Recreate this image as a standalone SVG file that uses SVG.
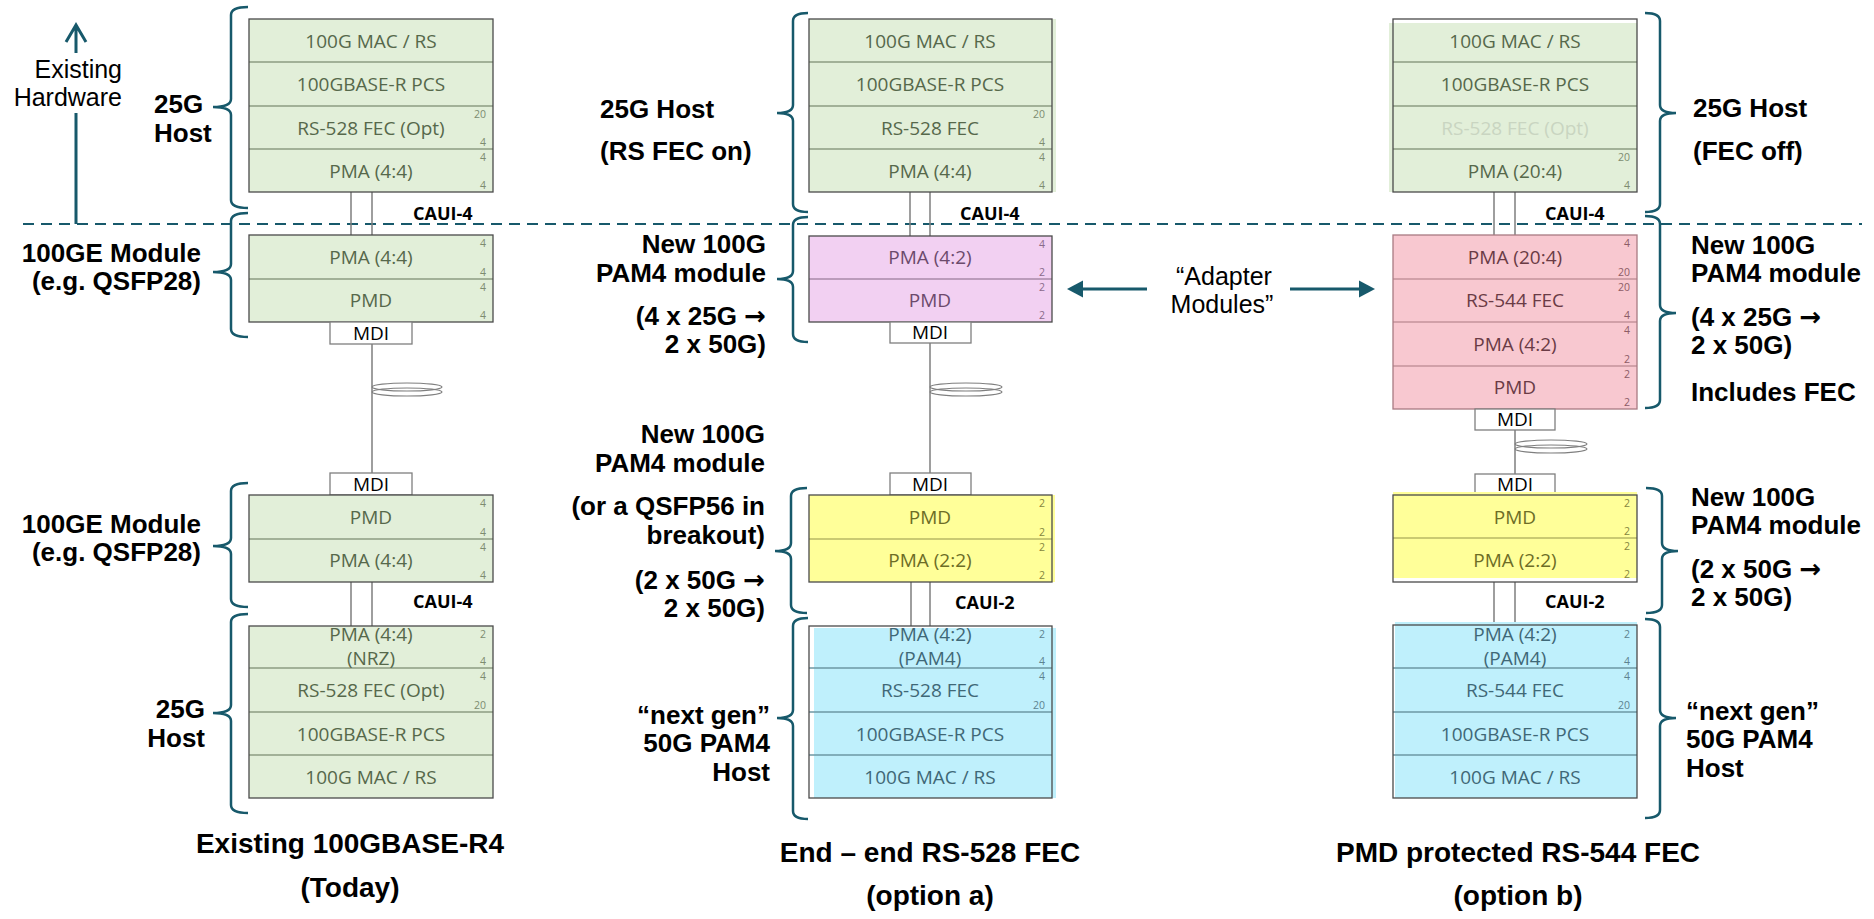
<svg xmlns="http://www.w3.org/2000/svg" width="1874" height="919" viewBox="0 0 1874 919">
<style>
.bt{font-family:"Open Sans","Liberation Sans",sans-serif;font-size:19px;text-anchor:middle}
.num{font-family:"Open Sans","Liberation Sans",sans-serif;font-size:10.5px;text-anchor:end}
.g .bt{fill:#56684b}.g .num{fill:#7d8c70}.g .fl{fill:#e2efd9}.g .dv{stroke:#8d9d82}
.p .bt{fill:#6c4a6c}.p .num{fill:#8a6a8a}.p .fl{fill:#f2d0f2}.p .dv{stroke:#a88aa8}
.r .bt{fill:#6a3b45}.r .num{fill:#8d5c66}.r .fl{fill:#f8c8d0}.r .dv{stroke:#c4939b}
.y .bt{fill:#6d6d26}.y .num{fill:#85853e}.y .fl{fill:#ffff99}.y .dv{stroke:#b9b964}
.b .bt{fill:#3f6877}.b .num{fill:#5d8390}.b .fl{fill:#bff0fc}.b .dv{stroke:#6d98a4}
.dv{stroke-width:1.5}
.bd{fill:none;stroke:#4a4a4a;stroke-width:1.3}
.faded{fill:#c9d5c1 !important}
.lbl{font-family:"Liberation Sans",Arial,sans-serif;font-weight:bold;font-size:26px;fill:#000}
.lr{text-anchor:end}
.arr{font-family:"DejaVu Sans",sans-serif;font-weight:bold}
.cap{font-family:"Liberation Sans",Arial,sans-serif;font-weight:bold;font-size:28px;fill:#000;text-anchor:middle}
.caui{font-family:"Open Sans","Liberation Sans",sans-serif;font-weight:bold;font-size:18px;fill:#000}
.mdi rect{fill:#fff;stroke:#7f7f7f;stroke-width:1.3}
.mdi text{font-family:"Open Sans","Liberation Sans",sans-serif;font-size:19px;fill:#000;text-anchor:middle}
.conn{stroke:#7f7f7f;stroke-width:1.5;fill:none}
.coil{fill:none;stroke:#7f7f7f;stroke-width:1.2}
.brace{fill:none;stroke:#17596b;stroke-width:2.5}
.teal{stroke:#17596b;fill:none}
.reg{font-family:"Liberation Sans",Arial,sans-serif;font-size:25px;fill:#000}
</style>

<!-- divider and existing-hardware arrow -->
<g id="existing-hardware">
<path class="teal" d="M23 224 H1862" stroke-width="2.2" stroke-dasharray="11 7"/>
<path class="teal" d="M76 224 V113 M76 53 V25 M66 42 L76 25 L86 42" stroke-width="3"/>
<text class="reg" x="122" y="78" text-anchor="end">Existing</text>
<text class="reg" x="122" y="106" text-anchor="end">Hardware</text>
</g>

<!-- connectors -->
<g id="connectors">
<path class="conn" d="M351 192 V235 M372 192 V235 M351 582 V626 M372 582 V626 M372 344 V473"/>
<path class="conn" d="M910 192 V236 M930 192 V236 M911 582 V626 M930 582 V626 M930 343 V473"/>
<path class="conn" d="M1494 192 V235 M1515 192 V235 M1494 582 V626 M1515 582 V626 M1515 430 V474"/>
<g class="coil">
<ellipse cx="407" cy="387" rx="35" ry="4"/><ellipse cx="407" cy="392" rx="35" ry="4"/>
<ellipse cx="966" cy="387" rx="36" ry="4"/><ellipse cx="966" cy="392" rx="36" ry="4"/>
<ellipse cx="1551" cy="444" rx="36" ry="4"/><ellipse cx="1551" cy="449" rx="36" ry="4"/>
</g>
<g id="adapter-arrows">
<path class="teal" d="M1147 289 H1080 M1290 289 H1362" stroke-width="3"/>
<polygon points="1067,289 1083,280.5 1083,297.5" fill="#17596b"/>
<polygon points="1375,289 1359,280.5 1359,297.5" fill="#17596b"/>
<text class="reg" x="1224" y="285" text-anchor="middle">“Adapter</text>
<text class="reg" x="1222" y="313" text-anchor="middle">Modules”</text>
</g>
<g class="caui">
<text x="413" y="220">CAUI-4</text>
<text x="413" y="608">CAUI-4</text>
<text x="960" y="220">CAUI-4</text>
<text x="955" y="609">CAUI-2</text>
<text x="1545" y="220">CAUI-4</text>
<text x="1545" y="608">CAUI-2</text>
</g>
</g>

<!-- braces -->
<g id="braces" class="brace">
<path d="M248 7 Q231 7 231 15 V99 Q231 107 213 107 Q231 107 231 115 V200 Q231 208 248 208"/>
<path d="M248 213 Q231 213 231 221 V264 Q231 272 213 272 Q231 272 231 280 V329 Q231 337 248 337"/>
<path d="M248 483 Q231 483 231 491 V538 Q231 546 213 546 Q231 546 231 554 V599 Q231 607 248 607"/>
<path d="M248 614 Q231 614 231 622 V705 Q231 713 213 713 Q231 713 231 721 V805 Q231 813 248 813"/>
<path d="M808 13 Q793 13 793 21 V105 Q793 113 777 113 Q793 113 793 121 V204 Q793 212 808 212"/>
<path d="M808 217 Q793 217 793 225 V271 Q793 279 777 279 Q793 279 793 287 V334 Q793 342 808 342"/>
<path d="M807 488 Q791 488 791 496 V543 Q791 551 775 551 Q791 551 791 559 V605 Q791 613 807 613"/>
<path d="M808 618 Q793 618 793 626 V710 Q793 718 777 718 Q793 718 793 726 V811 Q793 819 808 819"/>
<path d="M1645 13 Q1660 13 1660 21 V105 Q1660 113 1676 113 Q1660 113 1660 121 V204 Q1660 212 1645 212"/>
<path d="M1645 216 Q1660 216 1660 224 V305 Q1660 313 1676 313 Q1660 313 1660 321 V400 Q1660 408 1645 408"/>
<path d="M1646 488 Q1662 488 1662 496 V543 Q1662 551 1678 551 Q1662 551 1662 559 V605 Q1662 613 1646 613"/>
<path d="M1645 619 Q1660 619 1660 627 V710 Q1660 718 1676 718 Q1660 718 1660 726 V810 Q1660 818 1645 818"/>
</g>

<!-- LEFT COLUMN -->
<g id="left-host-top" class="g">
<rect class="fl" x="249" y="19" width="244" height="173"/>
<path class="dv" d="M249 62 H493 M249 106 H493 M249 149 H493"/>
<rect class="bd" x="249" y="19" width="244" height="173"/>
<text class="bt" x="371" y="48">100G MAC / RS</text>
<text class="bt" x="371" y="91">100GBASE-R PCS</text>
<text class="bt" x="371" y="135">RS-528 FEC (Opt)</text>
<text class="bt" x="371" y="178">PMA (4:4)</text>
<text class="num" x="486" y="118">20</text><text class="num" x="486" y="146">4</text>
<text class="num" x="486" y="161">4</text><text class="num" x="486" y="189">4</text>
</g>
<g id="left-module-top" class="g">
<rect class="fl" x="249" y="235" width="244" height="87"/>
<path class="dv" d="M249 279 H493"/>
<rect class="bd" x="249" y="235" width="244" height="87"/>
<text class="bt" x="371" y="264">PMA (4:4)</text>
<text class="bt" x="371" y="307">PMD</text>
<text class="num" x="486" y="247">4</text><text class="num" x="486" y="276">4</text>
<text class="num" x="486" y="291">4</text><text class="num" x="486" y="319">4</text>
</g>
<g id="left-mdi-top" class="mdi"><rect x="330" y="322" width="82" height="22"/><text x="371" y="340">MDI</text></g>
<g id="left-mdi-bottom" class="mdi"><rect x="330" y="473" width="82" height="22"/><text x="371" y="491">MDI</text></g>
<g id="left-module-bottom" class="g">
<rect class="fl" x="249" y="495" width="244" height="87"/>
<path class="dv" d="M249 539 H493"/>
<rect class="bd" x="249" y="495" width="244" height="87"/>
<text class="bt" x="371" y="524">PMD</text>
<text class="bt" x="371" y="567">PMA (4:4)</text>
<text class="num" x="486" y="507">4</text><text class="num" x="486" y="536">4</text>
<text class="num" x="486" y="551">4</text><text class="num" x="486" y="579">4</text>
</g>
<g id="left-host-bottom" class="g">
<rect class="fl" x="249" y="626" width="244" height="172"/>
<path class="dv" d="M249 668 H493 M249 712 H493 M249 755 H493"/>
<rect class="bd" x="249" y="626" width="244" height="172"/>
<text class="bt" x="371" y="641">PMA (4:4)</text>
<text class="bt" x="371" y="665">(NRZ)</text>
<text class="bt" x="371" y="697">RS-528 FEC (Opt)</text>
<text class="bt" x="371" y="741">100GBASE-R PCS</text>
<text class="bt" x="371" y="784">100G MAC / RS</text>
<text class="num" x="486" y="638">2</text><text class="num" x="486" y="665">4</text>
<text class="num" x="486" y="680">4</text><text class="num" x="486" y="709">20</text>
</g>
<g id="left-labels">
<text class="lbl" x="154" y="113">25G</text>
<text class="lbl" x="154" y="142">Host</text>
<text class="lbl lr" x="201" y="262">100GE Module</text>
<text class="lbl lr" x="201" y="290">(e.g. QSFP28)</text>
<text class="lbl lr" x="201" y="533">100GE Module</text>
<text class="lbl lr" x="201" y="561">(e.g. QSFP28)</text>
<text class="lbl lr" x="205" y="718">25G</text>
<text class="lbl lr" x="205" y="747">Host</text>
<text class="cap" x="350" y="853">Existing 100GBASE-R4</text>
<text class="cap" x="350" y="897">(Today)</text>
</g>

<!-- MIDDLE COLUMN -->
<g id="mid-host-top" class="g">
<rect class="fl" x="809" y="19" width="247" height="173"/>
<path class="dv" d="M809 62 H1052 M809 106 H1052 M809 149 H1052"/>
<rect class="bd" x="809" y="19" width="243" height="173"/>
<text class="bt" x="930" y="48">100G MAC / RS</text>
<text class="bt" x="930" y="91">100GBASE-R PCS</text>
<text class="bt" x="930" y="135">RS-528 FEC</text>
<text class="bt" x="930" y="178">PMA (4:4)</text>
<text class="num" x="1045" y="118">20</text><text class="num" x="1045" y="146">4</text>
<text class="num" x="1045" y="161">4</text><text class="num" x="1045" y="189">4</text>
</g>
<g id="mid-module-top" class="p">
<rect class="fl" x="809" y="236" width="243" height="86"/>
<path class="dv" d="M809 279 H1052"/>
<rect class="bd" x="809" y="236" width="243" height="86"/>
<text class="bt" x="930" y="264">PMA (4:2)</text>
<text class="bt" x="930" y="307">PMD</text>
<text class="num" x="1045" y="248">4</text><text class="num" x="1045" y="276">2</text>
<text class="num" x="1045" y="291">2</text><text class="num" x="1045" y="319">2</text>
</g>
<g id="mid-mdi-top" class="mdi"><rect x="890" y="322" width="81" height="21"/><text x="930" y="339">MDI</text></g>
<g id="mid-mdi-bottom" class="mdi"><rect x="890" y="473" width="81" height="22"/><text x="930" y="491">MDI</text></g>
<g id="mid-module-bottom" class="y">
<rect class="fl" x="809" y="495" width="246" height="87"/>
<path class="dv" d="M809 539 H1052"/>
<rect class="bd" x="809" y="495" width="243" height="87"/>
<text class="bt" x="930" y="524">PMD</text>
<text class="bt" x="930" y="567">PMA (2:2)</text>
<text class="num" x="1045" y="507">2</text><text class="num" x="1045" y="536">2</text>
<text class="num" x="1045" y="551">2</text><text class="num" x="1045" y="579">2</text>
</g>
<g id="mid-host-bottom" class="b">
<rect class="fl" x="814" y="628" width="242" height="170"/>
<path class="dv" d="M809 668 H1052 M809 712 H1052 M809 755 H1052"/>
<rect class="bd" x="809" y="626" width="243" height="172"/>
<text class="bt" x="930" y="641">PMA (4:2)</text>
<text class="bt" x="930" y="665">(PAM4)</text>
<text class="bt" x="930" y="697">RS-528 FEC</text>
<text class="bt" x="930" y="741">100GBASE-R PCS</text>
<text class="bt" x="930" y="784">100G MAC / RS</text>
<text class="num" x="1045" y="638">2</text><text class="num" x="1045" y="665">4</text>
<text class="num" x="1045" y="680">4</text><text class="num" x="1045" y="709">20</text>
</g>
<g id="mid-labels">
<text class="lbl" x="600" y="118">25G Host</text>
<text class="lbl" x="600" y="160">(RS FEC on)</text>
<text class="lbl lr" x="766" y="253">New 100G</text>
<text class="lbl lr" x="766" y="282">PAM4 module</text>
<text class="lbl lr" x="766" y="325">(4 x 25G <tspan class="arr">→</tspan></text>
<text class="lbl lr" x="766" y="353">2 x 50G)</text>
<text class="lbl lr" x="765" y="443">New 100G</text>
<text class="lbl lr" x="765" y="472">PAM4 module</text>
<text class="lbl lr" x="765" y="515">(or a QSFP56 in</text>
<text class="lbl lr" x="765" y="544">breakout)</text>
<text class="lbl lr" x="765" y="589">(2 x 50G <tspan class="arr">→</tspan></text>
<text class="lbl lr" x="765" y="617">2 x 50G)</text>
<text class="lbl lr" x="770" y="724">“next gen”</text>
<text class="lbl lr" x="770" y="752">50G PAM4</text>
<text class="lbl lr" x="770" y="781">Host</text>
<text class="cap" x="930" y="862">End – end RS-528 FEC</text>
<text class="cap" x="930" y="905">(option a)</text>
</g>

<!-- RIGHT COLUMN -->
<g id="right-host-top" class="g">
<rect class="fl" x="1389" y="23" width="248" height="169"/>
<path class="dv" d="M1393 62 H1637 M1393 106 H1637 M1393 149 H1637"/>
<rect class="bd" x="1393" y="19" width="244" height="173"/>
<text class="bt" x="1515" y="48">100G MAC / RS</text>
<text class="bt" x="1515" y="91">100GBASE-R PCS</text>
<text class="bt faded" x="1515" y="135">RS-528 FEC (Opt)</text>
<text class="bt" x="1515" y="178">PMA (20:4)</text>
<text class="num" x="1630" y="161">20</text><text class="num" x="1630" y="189">4</text>
</g>
<g id="right-module-top" class="r">
<rect class="fl" x="1393" y="235" width="244" height="174"/>
<path class="dv" d="M1393 279 H1637 M1393 322 H1637 M1393 366 H1637"/>
<rect class="bd" x="1393" y="235" width="244" height="174" style="stroke:#a87a82"/>
<text class="bt" x="1515" y="264">PMA (20:4)</text>
<text class="bt" x="1515" y="307">RS-544 FEC</text>
<text class="bt" x="1515" y="351">PMA (4:2)</text>
<text class="bt" x="1515" y="394">PMD</text>
<text class="num" x="1630" y="247">4</text><text class="num" x="1630" y="276">20</text>
<text class="num" x="1630" y="291">20</text><text class="num" x="1630" y="319">4</text>
<text class="num" x="1630" y="334">4</text><text class="num" x="1630" y="363">2</text>
<text class="num" x="1630" y="378">2</text><text class="num" x="1630" y="406">2</text>
</g>
<g id="right-mdi-top" class="mdi"><rect x="1475" y="409" width="80" height="21"/><text x="1515" y="426">MDI</text></g>
<g id="right-mdi-bottom" class="mdi"><rect x="1475" y="474" width="80" height="21"/><text x="1515" y="491">MDI</text></g>
<g id="right-module-bottom" class="y">
<rect class="fl" x="1393" y="492" width="244" height="86"/>
<path class="dv" d="M1393 538 H1637"/>
<rect class="bd" x="1393" y="495" width="244" height="87"/>
<text class="bt" x="1515" y="524">PMD</text>
<text class="bt" x="1515" y="567">PMA (2:2)</text>
<text class="num" x="1630" y="507">2</text><text class="num" x="1630" y="535">2</text>
<text class="num" x="1630" y="550">2</text><text class="num" x="1630" y="578">2</text>
</g>
<g id="right-host-bottom" class="b">
<rect class="fl" x="1395" y="622" width="242" height="176"/>
<path class="dv" d="M1393 668 H1637 M1393 712 H1637 M1393 755 H1637"/>
<rect class="bd" x="1393" y="625" width="244" height="173"/>
<text class="bt" x="1515" y="641">PMA (4:2)</text>
<text class="bt" x="1515" y="665">(PAM4)</text>
<text class="bt" x="1515" y="697">RS-544 FEC</text>
<text class="bt" x="1515" y="741">100GBASE-R PCS</text>
<text class="bt" x="1515" y="784">100G MAC / RS</text>
<text class="num" x="1630" y="638">2</text><text class="num" x="1630" y="665">4</text>
<text class="num" x="1630" y="680">4</text><text class="num" x="1630" y="709">20</text>
</g>
<g id="right-labels">
<text class="lbl" x="1693" y="117">25G Host</text>
<text class="lbl" x="1693" y="160">(FEC off)</text>
<text class="lbl" x="1691" y="254">New 100G</text>
<text class="lbl" x="1691" y="282">PAM4 module</text>
<text class="lbl" x="1691" y="326">(4 x 25G <tspan class="arr">→</tspan></text>
<text class="lbl" x="1691" y="354">2 x 50G)</text>
<text class="lbl" x="1691" y="401">Includes FEC</text>
<text class="lbl" x="1691" y="506">New 100G</text>
<text class="lbl" x="1691" y="534">PAM4 module</text>
<text class="lbl" x="1691" y="578">(2 x 50G <tspan class="arr">→</tspan></text>
<text class="lbl" x="1691" y="606">2 x 50G)</text>
<text class="lbl" x="1686" y="720">“next gen”</text>
<text class="lbl" x="1686" y="748">50G PAM4</text>
<text class="lbl" x="1686" y="777">Host</text>
<text class="cap" x="1518" y="862">PMD protected RS-544 FEC</text>
<text class="cap" x="1518" y="905">(option b)</text>
</g>
</svg>
